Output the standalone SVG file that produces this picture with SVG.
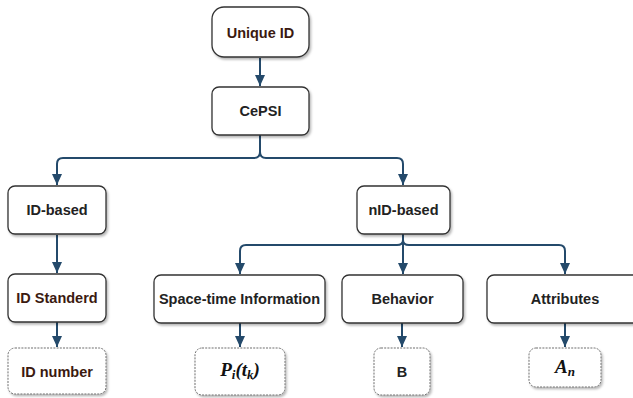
<svg xmlns="http://www.w3.org/2000/svg" width="633" height="398" viewBox="0 0 633 398">
  <defs>
    <marker id="arrow" markerUnits="userSpaceOnUse" markerWidth="12" markerHeight="12" viewBox="0 0 12 12" refX="11" refY="6" orient="auto">
      <path d="M0,1 L11,6 L0,11 Z" fill="#244a6b"/>
    </marker>
    <filter id="shadow" x="-10%" y="-10%" width="130%" height="140%">
      <feDropShadow dx="1.5" dy="2" stdDeviation="1" flood-color="#000" flood-opacity="0.28"/>
    </filter>
  </defs>
  <style>
    .box { fill: #ffffff; stroke: #333333; stroke-width: 1.3; filter: url(#shadow); }
    .leaf { fill: #ffffff; stroke: #6e6e6e; stroke-width: 1; stroke-dasharray: 2 1.2; filter: url(#shadow); }
    .lbl { font-family: "Liberation Sans", Arial, sans-serif; font-weight: bold; font-size: 14.5px; fill: #222222; text-anchor: middle; }
    .brown { fill: #3b1a10; }
    .math { font-family: "Liberation Serif", "Times New Roman", serif; font-weight: bold; font-style: italic; font-size: 19px; fill: #111111; text-anchor: middle; }
    .sub { font-size: 13px; }
    .edge { fill: none; stroke: #244a6b; stroke-width: 2; }
  </style>
  <rect width="633" height="398" fill="#ffffff"/>

  <!-- connectors -->
  <g id="connectors">
    <path class="edge" d="M260,58 V86" marker-end="url(#arrow)"/>
    <path class="edge" d="M260,135 V152 Q260,158 254,158 H63 Q57,158 57,164 V185" marker-end="url(#arrow)"/>
    <path class="edge" d="M260,152 Q260,158 266,158 H397 Q403,158 403,164 V185" marker-end="url(#arrow)"/>
    <path class="edge" d="M57,235 V273" marker-end="url(#arrow)"/>
    <path class="edge" d="M57,322 V347" marker-end="url(#arrow)"/>
    <path class="edge" d="M403,234 V240 Q403,245 397,245 H246 Q240,245 240,251 V274" marker-end="url(#arrow)"/>
    <path class="edge" d="M403,240 Q403,245 409,245 H559 Q565,245 565,251 V274" marker-end="url(#arrow)"/>
    <path class="edge" d="M403,234 V274" marker-end="url(#arrow)"/>
    <path class="edge" d="M240,323 V347" marker-end="url(#arrow)"/>
    <path class="edge" d="M402,323 V347" marker-end="url(#arrow)"/>
    <path class="edge" d="M565,323 V347" marker-end="url(#arrow)"/>
  </g>

  <!-- nodes -->
  <g id="unique-id">
    <rect class="box" x="212" y="7" width="97" height="50" rx="12"/>
    <text class="lbl brown" x="260.5" y="37.5">Unique ID</text>
  </g>
  <g id="cepsi">
    <rect class="box" x="212" y="87" width="97" height="48" rx="7"/>
    <text class="lbl" x="260.5" y="116">CePSI</text>
  </g>
  <g id="id-based">
    <rect class="box" x="8" y="186" width="98" height="48" rx="7"/>
    <text class="lbl" x="57" y="215">ID-based</text>
  </g>
  <g id="nid-based">
    <rect class="box" x="357" y="186" width="93" height="48" rx="7"/>
    <text class="lbl" x="403.5" y="215">nID-based</text>
  </g>
  <g id="id-standerd">
    <rect class="box" x="8" y="274" width="98" height="48" rx="7"/>
    <text class="lbl brown" x="57" y="303">ID Standerd</text>
  </g>
  <g id="space-time">
    <rect class="box" x="154" y="275" width="171" height="48" rx="7"/>
    <text class="lbl" x="239.5" y="304">Space-time Information</text>
  </g>
  <g id="behavior">
    <rect class="box" x="342" y="275" width="121" height="48" rx="7"/>
    <text class="lbl" x="402.5" y="304">Behavior</text>
  </g>
  <g id="attributes">
    <rect class="box" x="487" y="275" width="156" height="48" rx="7"/>
    <text class="lbl" x="565" y="304">Attributes</text>
  </g>
  <g id="id-number">
    <rect class="leaf" x="8" y="348" width="98" height="46" rx="7"/>
    <text class="lbl brown" x="57" y="376.5">ID number</text>
  </g>
  <g id="position">
    <rect class="leaf" x="195" y="348" width="90" height="47" rx="7"/>
    <text class="math" x="240" y="376">P<tspan class="sub" dy="3">i</tspan><tspan dy="-3">(t</tspan><tspan class="sub" dy="3">k</tspan><tspan dy="-3">)</tspan></text>
  </g>
  <g id="behavior-value">
    <rect class="leaf" x="374" y="348" width="56" height="47" rx="7"/>
    <text class="lbl" x="402" y="377">B</text>
  </g>
  <g id="attribute-value">
    <rect class="leaf" x="529" y="348" width="72" height="39" rx="7"/>
    <text class="math" x="565" y="373">A<tspan class="sub" dy="3">n</tspan></text>
  </g>
</svg>
